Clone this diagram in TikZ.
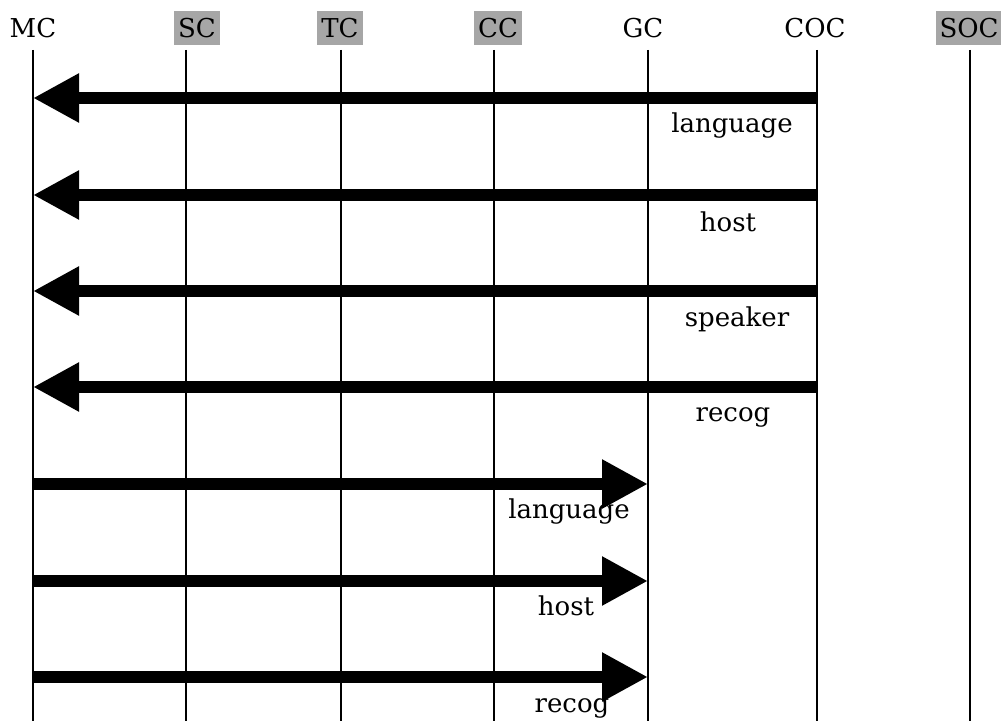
\documentclass[tikz,border=0pt]{standalone}
\usepackage{fontspec}
\setmainfont{DejaVu Serif}
\usetikzlibrary{arrows.meta}

\begin{document}
\begin{tikzpicture}[x=0.5pt,y=-0.5pt,
		head/.style={anchor=base,font=\fontsize{13}{15}\selectfont,inner sep=2pt,text height=11.5pt,text depth=1.5pt},
		ghead/.style={head,fill=black!35},
		life/.style={line width=1pt},
		msg/.style={line width=6pt,-{Triangle[length=23pt,width=23pt]}},
		lbl/.style={anchor=base,font=\fontsize{13}{15}\selectfont}]
		%%%%% START %%%%%
		
		\useasboundingbox (0,0) rectangle (1001,721);
		
		\node[head]  (MC)  at (33, 38) {MC};
		\node[ghead] (SC)  at (197, 38) {SC};
		\node[ghead] (TC)  at (340, 38) {TC};
		\node[ghead] (CC)  at (498, 38) {CC};
		\node[head]  (GC)  at (643, 38) {GC};
		\node[head]  (COC) at (815, 38) {COC};
		\node[ghead] (SOC) at (969, 38) {SOC};
		
		\foreach \n/\x in {MC/33,SC/186,TC/341,CC/494,GC/648,COC/817,SOC/970}{
			\coordinate (\n t) at (\x, 50);
			\coordinate (\n b) at (\x, 721);
			\draw[life] (\n t) -- (\n b);
		}
		
		\coordinate (r1) at (0, 98);
		\coordinate (r2) at (0, 195);
		\coordinate (r3) at (0, 291);
		\coordinate (r4) at (0, 387);
		\coordinate (r5) at (0, 484);
		\coordinate (r6) at (0, 581);
		\coordinate (r7) at (0, 677);
		
		\draw[msg] (COCt |- r1) -- (MCt |- r1);
		\draw[msg] (COCt |- r2) -- (MCt |- r2);
		\draw[msg] (COCt |- r3) -- (MCt |- r3);
		\draw[msg] (COCt |- r4) -- (MCt |- r4);
		
		\draw[msg] (MCt |- r5) -- (GCt |- r5);
		\draw[msg] (MCt |- r6) -- (GCt |- r6);
		\draw[msg] (MCt |- r7) -- (GCt |- r7);
		
		\node[lbl] (l1) at (732, 133) {language};
		\node[lbl] (l2) at (728, 232) {host};
		\node[lbl] (l3) at (737, 327) {speaker};
		\node[lbl] (l4) at (733, 422) {recog};
		\node[lbl] (l5) at (569, 518) {language};
		\node[lbl] (l6) at (566, 615) {host};
		\node[lbl] (l7) at (572, 712) {recog};
		
		%%%%% END %%%%%
\end{tikzpicture}
\end{document}
